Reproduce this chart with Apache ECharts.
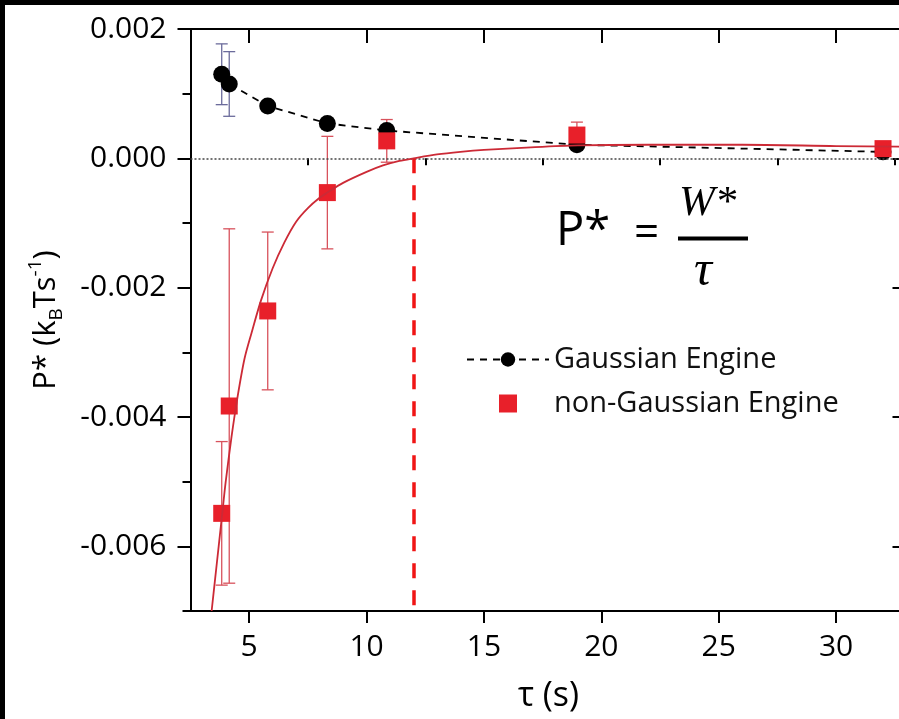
<!DOCTYPE html>
<html>
<head>
<meta charset="utf-8">
<script src="https://cdn.jsdelivr.net/npm/echarts@6/dist/echarts.min.js"></script>
<style>
  html, body { margin: 0; padding: 0; background: #000; width: 899px; height: 719px; overflow: hidden; }
  #chart { position: absolute; left: 5px; top: 5px; width: 894px; height: 714px; background: #fff; }
</style>
</head>
<body>
<div id="chart"></div>
<script>
// Cycle time tau (s) for each measured engine
const taus = [3.83, 4.15, 5.79, 8.33, 10.86, 18.96, 32.0];

// Mean power P* (kB T s^-1) and its error
const gaussianPower = [0.00130, 0.00115, 0.00081, 0.00054, 0.00043, 0.00021, 0.00010];
const gaussianError = [0.00047, 0.00050, 0, 0, 0, 0, 0];
const nonGaussianPower = [-0.00549, -0.00383, -0.00236, -0.00053, 0.00027, 0.00036, 0.00015];
const nonGaussianError = [0.00111, 0.00274, 0.00122, 0.00087, 0.00033, 0.00020, 0.00005];

// Fitted curve through the non-Gaussian engine, sampled along tau
const fitTau = [3.40, 3.55, 3.70, 3.85, 4.00, 4.25, 4.50, 4.80, 5.10, 5.50, 6.00, 6.50, 7.00, 7.50,
  8.00, 8.33, 9.00, 10.0, 10.7, 11.4, 12.0, 13.0, 14.0, 15.0, 17.0, 19.0, 22.0, 26.0, 30.0, 33.0];
const fitPower = [-0.0070, -0.0065, -0.0060, -0.0055, -0.0050, -0.0043, -0.0037, -0.0031, -0.0027, -0.0022,
  -0.0017, -0.0013, -0.00098, -0.00077, -0.00061, -0.00053, -0.00038, -0.00021, -0.00011, -0.00004,
  0.0, 0.00006, 0.00010, 0.00013, 0.00017, 0.00020, 0.00021, 0.00021, 0.00019, 0.00018];

// Tau where the non-Gaussian power changes sign
const crossingTau = 12.0;

// Axis ranges and tick values
const xRange = [2.5, 33];
const yRange = [-0.007, 0.002];
const xMajorTicks = [5, 10, 15, 20, 25, 30];
const xMinorTicks = [2.5, 7.5, 12.5, 17.5, 22.5, 27.5, 32.5];
const yMajorTicks = [-0.006, -0.004, -0.002, 0.000, 0.002];
const yMinorTicks = [-0.007, -0.005, -0.003, -0.001, 0.001];

const FONT = '"Open Sans", "DejaVu Sans", sans-serif';
const SERIF = '"Liberation Serif", "DejaVu Serif", serif';

function pairs(xs, ys) { return xs.map((x, i) => [x, ys[i]]); }
function bars(xs, ys, es) {
  const out = [];
  xs.forEach((x, i) => { if (es[i] > 0) out.push([x, ys[i] - es[i], ys[i] + es[i]]); });
  return out;
}
function errorBar(color) {
  return function (params, api) {
    const x = api.value(0);
    const lo = api.coord([x, api.value(1)]);
    const hi = api.coord([x, api.value(2)]);
    const hw = 6;
    const st = { stroke: color, lineWidth: 1.3 };
    return {
      type: 'group',
      children: [
        { type: 'line', shape: { x1: hi[0], y1: hi[1], x2: lo[0], y2: lo[1] }, style: st },
        { type: 'line', shape: { x1: hi[0] - hw, y1: hi[1], x2: hi[0] + hw, y2: hi[1] }, style: st },
        { type: 'line', shape: { x1: lo[0] - hw, y1: lo[1], x2: lo[0] + hw, y2: lo[1] }, style: st }
      ]
    };
  };
}

const axisLine = { show: true, onZero: false, lineStyle: { color: '#000', width: 2 } };
function xAxisDef(position, ticks, len, inside, withLabels, showLine) {
  return {
    type: 'value', position: position, min: xRange[0], max: xRange[1],
    axisLine: showLine ? axisLine : { show: false },
    axisTick: { show: true, inside: inside, length: len, customValues: ticks, lineStyle: { color: '#000', width: 2 } },
    axisLabel: withLabels ? { show: true, customValues: ticks, margin: 21, fontSize: 30, color: '#000', fontFamily: FONT } : { show: false },
    splitLine: { show: false }
  };
}
function yAxisDef(position, ticks, len, inside, withLabels, showLine) {
  return {
    type: 'value', position: position, min: yRange[0], max: yRange[1],
    axisLine: showLine ? axisLine : { show: false },
    axisTick: { show: true, inside: inside, length: len, customValues: ticks, lineStyle: { color: '#000', width: 2 } },
    axisLabel: withLabels ? {
      show: true, customValues: ticks, margin: 24, fontSize: 30, color: '#000', fontFamily: FONT,
      formatter: v => v.toFixed(3)
    } : { show: false },
    splitLine: { show: false }
  };
}

const xAxes = [
  xAxisDef('bottom', xMajorTicks, 12, false, true, true),
  xAxisDef('bottom', xMinorTicks, 6, false, false, false),
  xAxisDef('top', xMajorTicks, 14, true, false, true),
  xAxisDef('top', xMinorTicks, 7, true, false, false)
];
xAxes[0].name = 'τ (s)';
xAxes[0].nameLocation = 'middle';
xAxes[0].nameGap = 68;
xAxes[0].nameTextStyle = { fontSize: 34, color: '#000', fontFamily: FONT };

const yAxes = [
  yAxisDef('left', yMajorTicks, 13, false, true, true),
  yAxisDef('left', yMinorTicks, 8, false, false, false),
  yAxisDef('right', yMajorTicks, 14, true, false, true),
  yAxisDef('right', yMinorTicks, 7, true, false, false)
];
yAxes[0].name = '{a|P* (k}{sub|B}{a|Ts}{sup|-1}{a|)}';
yAxes[0].nameLocation = 'middle';
yAxes[0].nameGap = 124;
yAxes[0].nameTextStyle = {
  color: '#000', fontFamily: FONT,
  rich: {
    a: { fontSize: 31, lineHeight: 40, fontFamily: FONT, color: '#000' },
    sub: { fontSize: 19, lineHeight: 19, verticalAlign: 'bottom', fontFamily: FONT, color: '#000' },
    sup: { fontSize: 19, lineHeight: 19, verticalAlign: 'top', fontFamily: FONT, color: '#000' }
  }
};

const chart = echarts.init(document.getElementById('chart'), null, { renderer: 'canvas' });
chart.setOption({
  animation: false,
  backgroundColor: '#fff',
  grid: { left: 185.5, top: 24, width: 716, height: 582, containLabel: false, outerBoundsMode: 'none' },
  xAxis: xAxes,
  yAxis: yAxes,
  legend: {
    data: [
      { name: 'Gaussian Engine' },
      { name: 'non-Gaussian Engine', icon: 'path://M0,0L10,0L10,10L0,10Z' }
    ],
    orient: 'vertical', left: 456, top: 335,
    itemWidth: 82, itemHeight: 18, itemGap: 15, symbolKeepAspect: true,
    textStyle: { fontSize: 29, color: '#111', fontFamily: FONT },
    selectedMode: false
  },
  graphic: [
    { type: 'text', left: 551, top: 203, style: { text: 'P*', font: '47px ' + FONT, fill: '#000' } },
    { type: 'text', left: 629, top: 207, style: { text: '=', font: '44px ' + FONT, fill: '#000' } },
    { type: 'text', left: 674, top: 177, style: { text: 'W*', font: 'italic 43px ' + SERIF, fill: '#000' } },
    { type: 'line', shape: { x1: 673, y1: 233.5, x2: 743, y2: 233.5 }, style: { stroke: '#000', lineWidth: 4 } },
    { type: 'text', left: 689, top: 242, style: { text: 'τ', font: 'italic 50px ' + SERIF, fill: '#000' } }
  ],
  series: [
    {
      name: 'gaussian-err', type: 'custom', xAxisIndex: 0, yAxisIndex: 0,
      renderItem: errorBar('#6b6b9b'), data: bars(taus, gaussianPower, gaussianError), z: 2, silent: true
    },
    {
      name: 'non-gaussian-err', type: 'custom', xAxisIndex: 0, yAxisIndex: 0,
      renderItem: errorBar('#d8525c'), data: bars(taus, nonGaussianPower, nonGaussianError), z: 2, silent: true
    },
    {
      name: 'Gaussian Engine', type: 'line', xAxisIndex: 0, yAxisIndex: 0,
      data: pairs(taus, gaussianPower),
      symbol: 'circle', symbolSize: 17, showAllSymbol: true,
      itemStyle: { color: '#000' },
      lineStyle: { color: '#000', width: 1.8, type: [7, 6] },
      z: 4,
      markLine: {
        silent: true, symbol: ['none', 'none'], label: { show: false },
        lineStyle: { type: [2, 2], color: '#444', width: 1.5 },
        data: [{ yAxis: 0 }]
      }
    },
    {
      name: 'non-Gaussian Engine', type: 'scatter', xAxisIndex: 0, yAxisIndex: 0,
      data: pairs(taus, nonGaussianPower),
      symbol: 'rect', symbolSize: 17,
      itemStyle: { color: '#e8202a', opacity: 1 },
      z: 5
    },
    {
      name: 'fit', type: 'line', xAxisIndex: 0, yAxisIndex: 0,
      data: pairs(fitTau, fitPower), smooth: 0.3, symbol: 'none',
      lineStyle: { color: '#cc2a36', width: 1.8 },
      z: 6, silent: true,
      markLine: {
        silent: true, symbol: ['none', 'none'], label: { show: false },
        lineStyle: { type: [15, 12], color: '#f01515', width: 3.5 },
        data: [[{ coord: [crossingTau, 0] }, { coord: [crossingTau, yRange[0]] }]]
      }
    }
  ]
});
</script>
</body>
</html>
